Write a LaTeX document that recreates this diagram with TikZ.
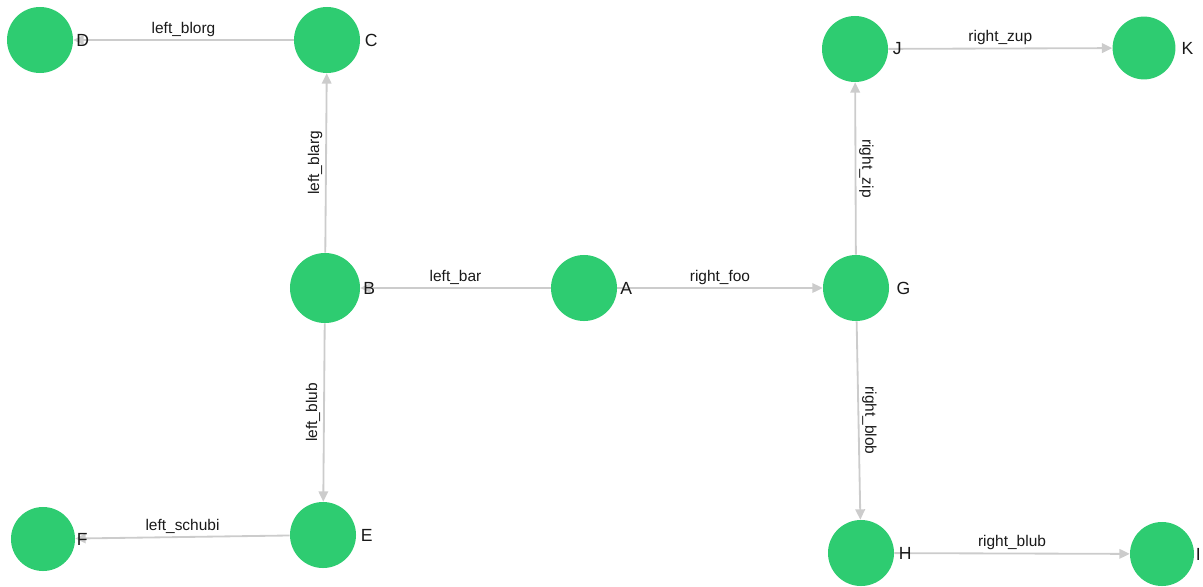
\documentclass[tikz,border=0pt]{standalone}
\usepackage{fontspec}
\setmainfont{Liberation Sans}
\usetikzlibrary{arrows.meta,backgrounds}
\definecolor{nodegreen}{HTML}{2ECC71}
\definecolor{edgegray}{HTML}{CCCCCC}
\tikzset{
  vtx/.style={circle,fill=nodegreen,draw=none,minimum size=1.65cm,inner sep=0pt},
  vlbl/.style={font=\fontsize{12.5}{14}\selectfont,text=black!90,inner sep=0pt},
  conn/.style={-{Triangle[length=2.6mm,width=2.4mm]},draw=edgegray,line width=1.3pt},
  elbl/.style={font=\fontsize{11}{13}\selectfont,text=black!90,inner sep=2pt},
}
\begin{document}
\begin{tikzpicture}[x=0.025cm,y=-0.025cm]
  \useasboundingbox (0,0) rectangle (1203,586);
  % vertices, named after their letters
  \node[vtx,label={[vlbl,label distance=2pt]right:D}] (D) at (40,40) {};
  \node[vtx,label={[vlbl,label distance=3pt]right:C}] (C) at (327,40) {};
  \node[vtx,minimum size=1.75cm,label={[vlbl,label distance=2pt]right:B}] (B) at (325,288) {};
  \node[vtx,label={[vlbl,label distance=2pt]right:A}] (A) at (584,288) {};
  \node[vtx,label={[vlbl,label distance=5pt]right:G}] (G) at (856,288) {};
  \node[vtx,label={[vlbl,label distance=3pt]right:J}] (J) at (855,49) {};
  \node[vtx,minimum size=1.57cm,label={[vlbl,label distance=4pt]right:K}] (K) at (1144,48) {};
  \node[vtx,label={[vlbl,label distance=3pt]right:H}] (H) at (861,553) {};
  \node[vtx,minimum size=1.6cm,label={[vlbl,label distance=1pt]right:I}] (I) at (1162,554) {};
  \node[vtx,label={[vlbl,label distance=3pt]right:E}] (E) at (323,535) {};
  \node[vtx,minimum size=1.6cm,label={[vlbl,label distance=1pt]right:F}] (F) at (43,539) {};
  % connectors
  \begin{scope}[on background layer]
    \draw[conn] (C) -- node[elbl,midway,above] (lblorg) {left\_blorg} (D);
    \draw[conn] (B) -- node[elbl,midway,above,rotate=90] (lblarg) {left\_blarg} (C);
    \draw[conn] (A) -- node[elbl,midway,above] (lbar) {left\_bar} (B);
    \draw[conn] (B) -- node[elbl,midway,above,rotate=90] (lblub) {left\_blub} (E);
    \draw[conn] (E) -- node[elbl,midway,above] (lschubi) {left\_schubi} (F);
    \draw[conn] (A) -- node[elbl,midway,above] (rfoo) {right\_foo} (G);
    \draw[conn] (G) -- node[elbl,midway,above,rotate=-90] (rzip) {right\_zip} (J);
    \draw[conn] (J) -- node[elbl,midway,above] (rzup) {right\_zup} (K);
    \draw[conn] (G) -- node[elbl,midway,above,rotate=-90] (rblob) {right\_blob} (H);
    \draw[conn] (H) -- node[elbl,midway,above] (rblub) {right\_blub} (I);
  \end{scope}
\end{tikzpicture}
\end{document}
